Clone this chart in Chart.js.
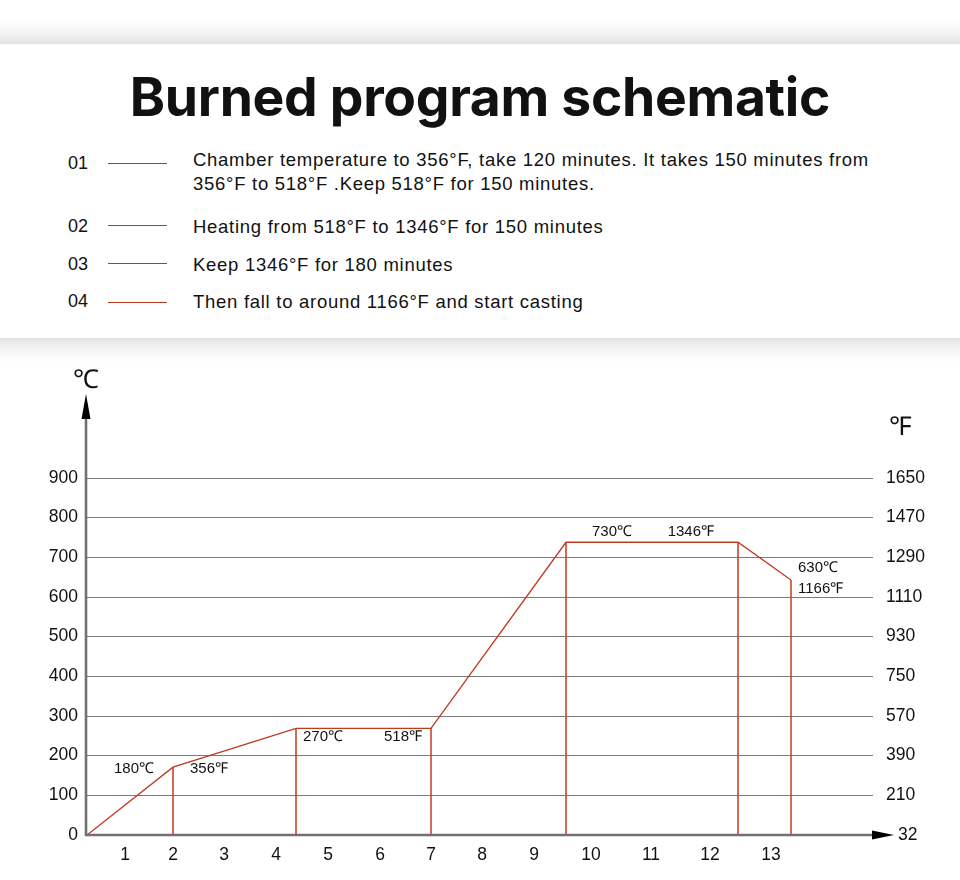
<!DOCTYPE html>
<html><head><meta charset="utf-8">
<script src="https://cdn.jsdelivr.net/npm/chart.js@4.4.1/dist/chart.umd.min.js"></script>
<style>
html,body{margin:0;padding:0;background:#fff;width:960px;height:880px;overflow:hidden;position:relative;font-family:"Liberation Sans",Arial,sans-serif;color:#111}
#shTop{position:absolute;left:0;top:0;width:960px;height:44px;background:linear-gradient(to bottom,#fff 0%,#fff 45%,#f4f4f4 75%,#e2e2e2 100%)}
#shBot{position:absolute;left:0;top:338px;width:960px;height:24px;background:linear-gradient(to bottom,#e2e2e2 0%,#f3f3f3 40%,#fff 100%)}
#title{position:absolute;left:0;top:62px;width:960px;text-align:center;font-family:Inter,"Noto Sans",sans-serif;font-weight:700;font-size:53.4px;line-height:70px;letter-spacing:-0.3px;color:#111}
.row{position:absolute;left:0;width:960px;font-size:18.5px;line-height:24px;color:#111}
.num{position:absolute;left:68px;font-size:18px}
.ln{position:absolute;left:108px;width:59px;height:1px;background:#b5391d}
.txt{position:absolute;left:193px;width:740px;letter-spacing:0.72px}
#c{position:absolute;left:0;top:340px}
</style></head><body>
<div id="shTop"></div><div id="shBot"></div>
<div id="title">Burned program schematic</div>
<div id="legend"></div>
<canvas id="c" width="960" height="540"></canvas>
<script>
// ---- data ----
const stepNums = ['01','02','03','04'];
const stepTexts = [
  'Chamber temperature to 356°F, take 120 minutes. It takes 150 minutes from<br>356°F to 518°F .Keep 518°F for 150 minutes.',
  'Heating from 518°F to 1346°F for 150 minutes',
  'Keep 1346°F for 180 minutes',
  'Then fall to around 1166°F and start casting'
];
// schematic timeline positions (axis units) and temperatures (°C)
const stageX = [0, 86, 209, 344, 479, 651, 704];
const tempC  = [0, 171, 269, 269, 738, 738, 643];
const xTickPos = [38, 86, 137, 189, 241, 293, 344, 395, 447, 504, 564, 623, 684];
const xTickLabels = ['1','2','3','4','5','6','7','8','9','10','11','12','13'];
const cTicks = [0,100,200,300,400,500,600,700,800,900];
const fTickLabels = ['32','210','390','570','750','930','1110','1290','1470','1650'];
const pointLabelText = ['180℃','356℉','270℃','518℉','730℃','1346℉','630℃','1166℉'];

// ---- legend ----
const rowTops = [148, 215, 253, 290];
const lineYs = [15, 10, 10, 12];
let html='';
stepNums.forEach((n,i)=>{
  html += '<div class="row" style="top:'+rowTops[i]+'px"><span class="num" style="top:'+(i===0?3:-1)+'px">'+n+'</span><div class="ln" style="top:'+lineYs[i]+'px"></div><div class="txt">'+stepTexts[i]+'</div></div>';
});
document.getElementById('legend').innerHTML = html;

const RED = '#bf3a1e';
const FONT = '"Liberation Sans", Arial, sans-serif';
const datasets = [{
  data: stageX.map((x,i)=>({x:x,y:tempC[i]})),
  borderColor: RED, borderWidth: 1.3, pointRadius: 0, tension: 0
}];
for (let i=1;i<stageX.length;i++){
  datasets.push({data:[{x:stageX[i],y:0},{x:stageX[i],y:tempC[i]}], borderColor: RED, borderWidth: 1.5, pointRadius:0});
}

const overlay = {
  id:'overlay',
  afterDatasetsDraw(chart){
    const ctx = chart.ctx, a = chart.chartArea;
    const xs = chart.scales.x, ys = chart.scales.y;
    ctx.save();
    // axes
    ctx.strokeStyle = '#707070'; ctx.lineWidth = 2.6;
    const x0 = a.left - 1, y0 = a.bottom;
    ctx.beginPath(); ctx.moveTo(x0, y0+1); ctx.lineTo(x0, a.top - 62); ctx.stroke();
    ctx.beginPath(); ctx.moveTo(x0-1, y0); ctx.lineTo(a.right + 2, y0); ctx.stroke();
    ctx.fillStyle = '#000';
    ctx.beginPath(); ctx.moveTo(x0, a.top-84); ctx.lineTo(x0+4.5, a.top-59); ctx.lineTo(x0-4.5, a.top-59); ctx.closePath(); ctx.fill();
    ctx.beginPath(); ctx.moveTo(a.right+21, y0); ctx.lineTo(a.right-1, y0-4.5); ctx.lineTo(a.right-1, y0+4.5); ctx.closePath(); ctx.fill();
    // unit labels
    ctx.fillStyle = '#111'; ctx.textBaseline = 'middle';
    ctx.font = '26px ' + FONT;
    ctx.textAlign = 'center';
    ctx.fillText('℃', x0, a.top - 97);
    ctx.fillText('℉', a.right + 27, a.top - 50);
    ctx.font = '17.5px ' + FONT;
    ctx.textAlign = 'left';
    ctx.fillText(fTickLabels[0], a.right + 25, y0);
    // point labels
    const P = i => ({x: xs.getPixelForValue(stageX[i]), y: ys.getPixelForValue(tempC[i])});
    const spec = [
      [1,'right',-19,2],[1,'left',17,2],
      [2,'left',7,9],[3,'right',-9,9],
      [4,'left',26,-10],[5,'right',-24,-10],
      [6,'left',7,-12],[6,'left',7,9]
    ];
    ctx.font = '15px ' + FONT;
    spec.forEach((s,k)=>{
      const p = P(s[0]);
      ctx.textAlign = s[1];
      ctx.fillText(pointLabelText[k], p.x + s[2], p.y + s[3]);
    });
    ctx.restore();
  }
};

new Chart(document.getElementById('c'), {
  type:'line',
  data:{datasets},
  plugins:[overlay],
  options:{
    responsive:false, animation:false, devicePixelRatio:1,
    layout:{padding:{top:138,left:0,right:0,bottom:0}},
    plugins:{legend:{display:false}, tooltip:{enabled:false}},
    scales:{
      x:{type:'linear', min:0, max:786,
        grid:{display:false}, border:{display:false},
        afterBuildTicks(s){ s.ticks = xTickPos.map(v=>({value:v})); },
        afterFit(s){ s.height = 45; },
        ticks:{autoSkip:false, maxRotation:0, padding:2, color:'#111',
          font:{family:FONT, size:17.5},
          callback:(v,i)=>xTickLabels[i]}
      },
      y:{type:'linear', position:'left', min:0, max:900,
        afterBuildTicks(s){ s.ticks = cTicks.map(v=>({value:v})); },
        afterFit(s){ s.width = 87; },
        grid:{color:'#7a7a7a', lineWidth:1, drawTicks:false}, border:{display:false},
        ticks:{padding:9, color:'#111', font:{family:FONT, size:17.5},
          callback:(v)=> String(v)}
      },
      y2:{type:'linear', position:'right', min:0, max:900,
        afterBuildTicks(s){ s.ticks = cTicks.map(v=>({value:v})); },
        afterFit(s){ s.width = 87; },
        grid:{display:false, drawTicks:false}, border:{display:false},
        ticks:{padding:13, color:'#111', font:{family:FONT, size:17.5},
          callback:(v,i)=> i===0 ? '' : fTickLabels[i]}
      }
    }
  }
});
</script>
</body></html>
